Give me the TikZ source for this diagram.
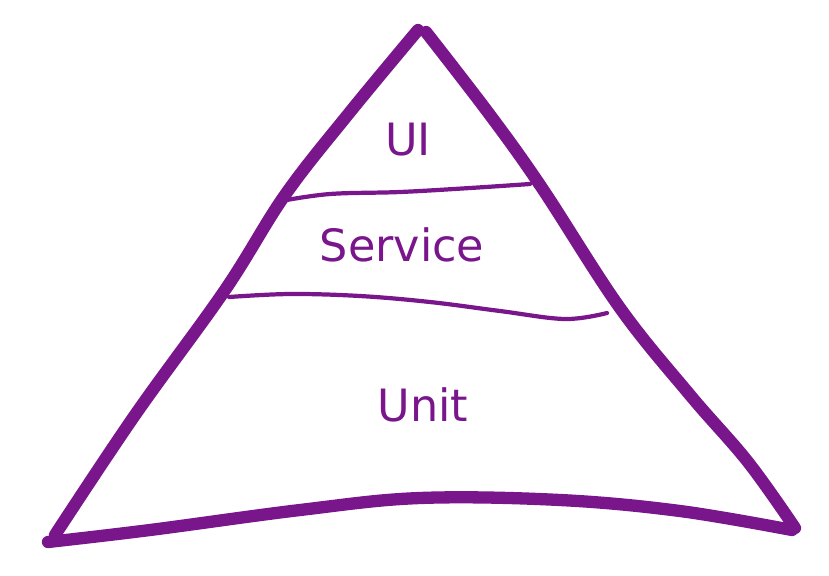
\documentclass[tikz,border=0pt]{standalone}
\usepackage{fontspec}
\setmainfont{DejaVu Sans}
\definecolor{pyr}{RGB}{122,22,140}
\tikzset{
  outer/.style={draw=pyr, line width=10.5pt, line cap=round, line join=round},
  layerline/.style={draw=pyr, line width=3.6pt, line cap=round},
  label/.style={text=pyr, font=\fontsize{38}{38}\selectfont, inner sep=0pt}
}
\begin{document}
\begin{tikzpicture}[x=0.03cm,y=-0.03cm]
\useasboundingbox (0,0) rectangle (829,575);
% sides
\draw[outer] plot[smooth, tension=0.6] coordinates {(418,30) (350,112) (285,195) (225,290) (135,415) (55,535)};
\draw[outer] plot[smooth, tension=0.6] coordinates {(426,32) (490,115) (542,188) (620,308) (690,395) (748,462) (795,528)};
\draw[outer] plot[smooth, tension=0.6] coordinates {(48,542) (150,530) (300,510) (420,498) (560,500) (680,511) (792,530)};
% layer lines
\draw[layerline] plot[smooth, tension=0.6] coordinates {(281,201) (330,194) (400,192) (470,188) (530,184)};
\draw[layerline] plot[smooth, tension=0.6] coordinates {(229,297) (290,294) (360,296) (430,302) (500,311) (565,319) (607,313)};
% labels
\node[label] (ui) at (408,140) {UI};
\node[label] (service) at (402,245) {Service};
\node[label] (unit) at (423,405) {Unit};
\end{tikzpicture}
\end{document}
